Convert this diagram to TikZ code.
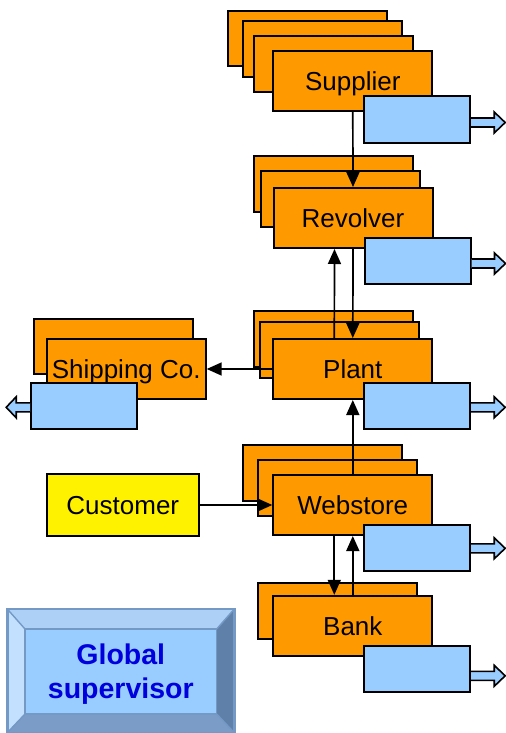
\documentclass[tikz,border=0pt]{standalone}
\usepackage{fontspec}
\setmainfont{Liberation Sans}
\usetikzlibrary{arrows.meta,calc}
\definecolor{orng}{HTML}{FF9900}
\definecolor{lblue}{HTML}{99CCFF}
\definecolor{steel}{HTML}{7399C4}
\definecolor{bevtop}{HTML}{ADD0F7}
\definecolor{bevleft}{HTML}{C4E0FF}
\definecolor{bevright}{HTML}{5F80A8}
\definecolor{bevbot}{HTML}{7A9CC6}
\definecolor{gsblue}{HTML}{0000DD}
\begin{document}
\begin{tikzpicture}[x=0.5pt,y=-0.5pt,
  every node/.style = {draw, line width=1pt, inner sep=0pt},
  box/.style    = {font=\fontsize{13}{15}\selectfont,
    text height=9.5pt, text depth=0pt},
  agent/.style  = {box, fill=orng, minimum width=79.5pt, minimum height=30pt},
  back/.style   = {box, fill=orng, minimum width=79.5pt, minimum height=27.75pt},
  outbox/.style = {fill=lblue, minimum width=53pt, minimum height=23pt},
  cust/.style   = {box, fill=yellow, minimum width=76pt, minimum height=30.7pt},
  flow/.style   = {line width=0.85pt, -{Triangle[length=7.5pt,width=6.5pt]}},
  outarr/.style = {fill=lblue, line width=0.8pt, line join=miter}]
\useasboundingbox (0,0) rectangle (505,733);
\node[back] (sup1) at (307.8,38.5) {};
\node[back] (sup2) at (322.8,48.8) {};
\node[back] (sup3) at (333.8,64.2) {};
\node[agent] (sup) at (352.8,81) {Supplier};
\node[outbox] (supb) at (417.2,119.5) {};
\node[back] (rev1) at (333.7,183.8) {};
\node[back] (rev2) at (340.3,199.2) {};
\node[agent] (rev) at (353,218) {Revolver};
\node[outbox] (revb) at (417.5,260.5) {};
\node[back] (plant1) at (333.7,339.2) {};
\node[back] (plant2) at (339.5,350.2) {};
\node[agent] (plant) at (352.8,369) {Plant};
\node[outbox] (plantb) at (417.2,406.3) {};
\node[back] (ship1) at (113,346.5) {};
\node[agent] (ship) at (126.2,369) {Shipping Co.};
\node[outbox] (shipb) at (84.2,406.3) {};
\node[cust] (cust) at (122.8,505) {Customer};
\node[back] (web1) at (322.8,472.8) {};
\node[back] (web2) at (337.5,487.8) {};
\node[agent] (web) at (352.8,505) {Webstore};
\node[outbox] (webb) at (417.2,547.8) {};
\node[back] (bank1) at (337.8,611) {};
\node[agent] (bank) at (352.8,625.8) {Bank};
\node[outbox] (bankb) at (417.2,668.8) {};
\foreach \b/\dy in {supb/3,revb/3,plantb/1,webb/0.5,bankb/7}
  \filldraw[outarr] ($(\b.east)+(0,\dy-4.5)$) -- ++(23,0) -- ++(0,-6)
    -- ++(11,10.5) -- ++(-11,10.5) -- ++(0,-6) -- ++(-23,0);
\filldraw[outarr] ($(shipb.west)+(0,-3.5)$) -- ++(-14,0) -- ++(0,-6)
  -- ++(-10,10.5) -- ++(10,10.5) -- ++(0,-6) -- ++(14,0);
\draw[flow] (sup.south) -- (rev.north);
\draw[flow] (rev.south) -- (plant.north);
\draw[flow] ([xshift=-9.25pt]plant.north) -- ([xshift=-9.25pt]rev.south);
\draw[flow] (plant.west) -- (ship.east);
\draw[flow] (cust.east) -- (web.west);
\draw[flow] (web.north) -- (plant.south);
\draw[flow] ([xshift=-9.25pt]web.south) -- ([xshift=-9.25pt]bank.north);
\draw[flow] (bank.north) -- (web.south);
\fill[bevtop] (7.3,609) -- (234.3,609) -- (216.7,629) -- (25,629) -- cycle;
\fill[bevleft] (7.3,609) -- (25,629) -- (25,714) -- (7.3,732.7) -- cycle;
\fill[bevright] (234.3,609) -- (234.3,732.7) -- (216.7,714) -- (216.7,629) -- cycle;
\fill[bevbot] (7.3,732.7) -- (234.3,732.7) -- (216.7,714) -- (25,714) -- cycle;
\draw[steel, line width=0.7pt] (7.3,609) -- (25,629) (234.3,609) -- (216.7,629)
  (7.3,732.7) -- (25,714) (234.3,732.7) -- (216.7,714);
\draw[steel, line width=0.7pt, fill=lblue] (25,629) rectangle (216.7,714);
\draw[steel, line width=1.2pt] (7.3,609) rectangle (234.3,732.7);
\node[draw=none, align=center, text=gsblue,
  font=\fontsize{14.25}{17}\selectfont\bfseries] (gs) at (120.8,674)
  {Global\\supervisor};
\end{tikzpicture}
\end{document}
